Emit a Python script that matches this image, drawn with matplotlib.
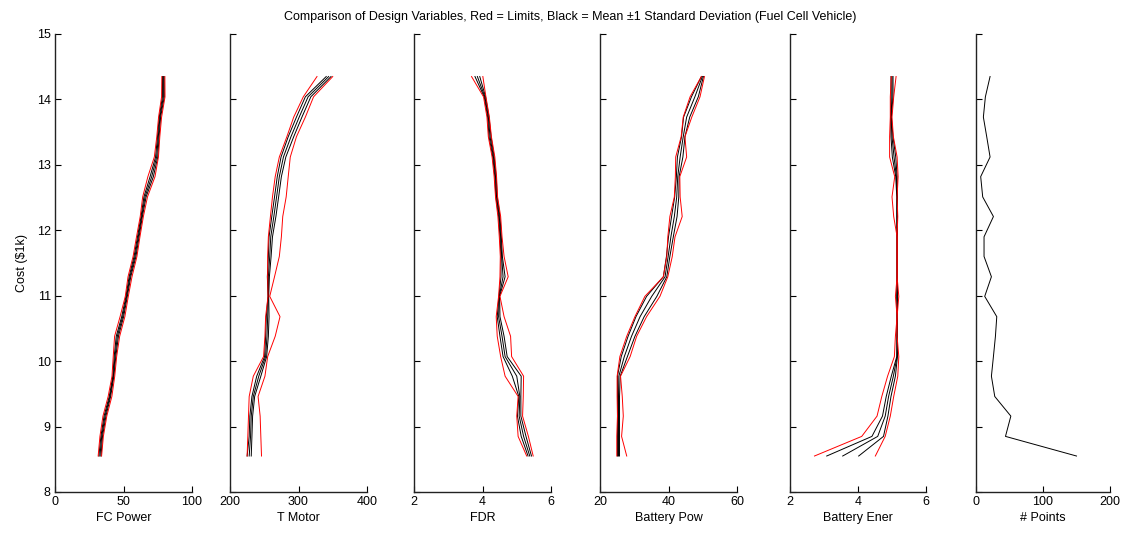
import numpy as np
import matplotlib
matplotlib.use('Agg')
import matplotlib.pyplot as plt

plt.rcParams['font.family'] = ['Liberation Sans', 'DejaVu Sans']
plt.rcParams['font.size'] = 9

# cost bins ($1k), bottom to top
cost = [8.55, 8.85, 9.16, 9.46, 9.77, 10.07, 10.38, 10.68, 10.99, 11.29,
        11.60, 11.90, 12.21, 12.51, 12.82, 13.12, 13.43, 13.73, 14.04, 14.35]

# FC Power
fc_mean = [32.8, 34.1, 36.5, 40.1, 42.6, 43.8, 45.5, 49.4, 52.3, 54.7,
           58.4, 60.8, 63.3, 65.7, 70.6, 74.2, 75.4, 76.6, 79.1, 79.1]
fc_std = [0.8, 0.6, 0.7, 0.5, 0.4, 0.6, 0.8, 0.7, 0.5, 0.6,
          0.7, 0.6, 0.5, 0.8, 1.2, 0.8, 0.6, 0.5, 0.7, 0.6]
fc_lo = [31.5, 32.8, 35.0, 38.8, 41.6, 42.5, 43.5, 47.5, 51.3, 53.3,
         57.0, 59.5, 62.2, 64.0, 67.8, 72.5, 74.3, 75.6, 77.8, 78.0]
fc_hi = [34.0, 35.3, 37.8, 41.5, 43.6, 45.0, 47.2, 51.0, 53.5, 56.2,
         59.8, 62.0, 64.5, 67.5, 73.0, 75.5, 76.5, 77.8, 80.3, 80.2]

# T Motor
tm_mean = [228, 230, 231, 234, 242, 252, 254, 255, 256, 256,
           258, 259.5, 264, 268, 272, 278, 289, 301, 314, 344]
tm_std = [3, 2, 2, 2, 3, 1.5, 2, 2, 0.5, 1.5,
          2, 2.5, 3, 3, 3, 3.5, 4, 4, 4, 3.5]
tm_lo = [225, 226, 227, 228, 234, 249, 251, 252, 255.5, 255,
         255, 256, 259, 262, 266, 272, 283, 293, 307, 327]
tm_hi = [246, 245, 244, 241, 251, 255, 266, 273, 258, 265,
         272, 275, 277, 282, 285, 288, 297, 310, 322, 350]

# FDR
fdr_mean = [5.38, 5.20, 5.07, 5.09, 5.00, 4.66, 4.57, 4.47, 4.49, 4.60,
            4.56, 4.53, 4.49, 4.41, 4.38, 4.32, 4.22, 4.17, 4.07, 3.85]
fdr_std = [0.05, 0.07, 0.05, 0.03, 0.13, 0.06, 0.06, 0.04, 0.01, 0.06,
           0.02, 0.02, 0.02, 0.02, 0.02, 0.02, 0.03, 0.02, 0.02, 0.07]
fdr_lo = [5.29, 5.04, 5.00, 5.04, 4.66, 4.53, 4.43, 4.40, 4.47, 4.51,
          4.52, 4.49, 4.45, 4.38, 4.34, 4.28, 4.17, 4.13, 4.03, 3.68]
fdr_hi = [5.48, 5.34, 5.17, 5.19, 5.20, 4.85, 4.82, 4.63, 4.51, 4.75,
          4.63, 4.57, 4.53, 4.44, 4.41, 4.36, 4.26, 4.20, 4.10, 4.01]

# Battery Pow
bp_mean = [25.4, 25.4, 25.4, 25.4, 25.5, 27.1, 29.2, 31.7, 35.1, 39.0,
           39.9, 40.7, 41.7, 42.4, 42.7, 43.4, 44.3, 45.3, 47.7, 49.9]
bp_std = [0.3, 0.3, 0.3, 0.3, 0.4, 0.9, 1.0, 1.2, 1.5, 0.5,
          0.5, 0.7, 0.8, 0.6, 0.4, 0.8, 0.5, 0.9, 1.0, 0.3]
bp_lo = [24.9, 24.9, 25.1, 25.0, 25.0, 25.8, 27.8, 30.2, 33.1, 38.5,
         39.5, 39.8, 40.4, 41.7, 42.0, 42.1, 43.7, 44.3, 46.3, 49.6]
bp_hi = [27.8, 26.3, 26.8, 26.5, 26.0, 28.8, 30.7, 33.6, 37.5, 39.8,
         41.1, 41.9, 44.0, 43.4, 43.3, 45.3, 44.8, 46.8, 49.2, 50.5]

# Battery Ener
be_mean = [3.55, 4.58, 4.80, 4.90, 5.04, 5.15, 5.15, 5.15, 5.15, 5.15,
           5.15, 5.15, 5.15, 5.15, 5.13, 5.06, 5.00, 4.97, 5.00, 5.00]
be_std = [0.47, 0.17, 0.08, 0.07, 0.06, 0.01, 0.0, 0.0, 0.01, 0.0,
          0.0, 0.0, 0.01, 0.01, 0.02, 0.05, 0.03, 0.01, 0.03, 0.03]
be_lo = [2.72, 4.11, 4.56, 4.70, 4.87, 5.07, 5.10, 5.15, 5.10, 5.15,
         5.15, 5.15, 5.05, 5.00, 5.08, 4.93, 4.93, 4.95, 4.95, 4.98]
be_hi = [4.51, 4.80, 4.95, 5.05, 5.17, 5.20, 5.15, 5.15, 5.20, 5.15,
         5.15, 5.15, 5.17, 5.15, 5.18, 5.15, 5.04, 5.00, 5.05, 5.12]

# number of points per cost bin
n_points = [150, 44, 52, 28, 23, 26, 29, 31, 13, 23,
            12, 12, 26, 10, 7, 21, 16, 11, 14, 21]

names = ['FC Power', 'T Motor', 'FDR', 'Battery Pow', 'Battery Ener']
means = [fc_mean, tm_mean, fdr_mean, bp_mean, be_mean]
stds = [fc_std, tm_std, fdr_std, bp_std, be_std]
los = [fc_lo, tm_lo, fdr_lo, bp_lo, be_lo]
his = [fc_hi, tm_hi, fdr_hi, bp_hi, be_hi]
xlims = [(0, 100), (200, 400), (2, 6), (20, 60), (2, 6)]
xticks = [[0, 50, 100], [200, 300, 400], [2, 4, 6], [20, 40, 60], [2, 4, 6]]

W, H = 1129, 535
fig = plt.figure(figsize=(W / 100, H / 100), dpi=100)

# axes left edges / widths in pixels
lefts = [55, 230, 414, 600, 790, 976]
widths = [137, 137, 137, 137, 136, 134]
y_top, y_bot = 34, 492


def make_ax(i):
    ax = fig.add_axes([lefts[i] / W, (H - y_bot) / H, widths[i] / W, (y_bot - y_top) / H])
    ax.spines['top'].set_visible(False)
    ax.spines['right'].set_visible(False)
    for s in ['left', 'bottom']:
        ax.spines[s].set_linewidth(1.0)
        ax.spines[s].set_color('#222222')
    ax.tick_params(direction='in', length=4, width=0.8, labelsize=9, pad=3)
    ax.set_ylim(8, 15)
    ax.set_yticks(range(8, 16))
    if i > 0:
        ax.set_yticklabels([])
    return ax


c = np.array(cost)
for i in range(5):
    ax = make_ax(i)
    m = np.array(means[i])
    s = np.array(stds[i])
    ax.plot(m - s, c, color='k', lw=0.7)
    ax.plot(m, c, color='k', lw=0.7)
    ax.plot(m + s, c, color='k', lw=0.7)
    ax.plot(los[i], c, color='r', lw=0.7)
    ax.plot(his[i], c, color='r', lw=0.7)
    ax.set_xlim(*xlims[i])
    ax.set_xticks(xticks[i])
    ax.set_xlabel(names[i], fontsize=9, labelpad=3)
    if i == 0:
        ax.set_ylabel('Cost (\\$1k)', fontsize=9, labelpad=6)

ax = make_ax(5)
ax.plot(n_points, c, color='k', lw=0.7)
ax.set_xlim(0, 200)
ax.set_xticks([0, 100, 200])
ax.set_xlabel('# Points', fontsize=9, labelpad=3)

fig.text(0.505, 1 - 17 / H,
         'Comparison of Design Variables, Red = Limits, Black = Mean \u00b11 Standard Deviation (Fuel Cell Vehicle)',
         ha='center', va='center', fontsize=9)

fig.savefig('out.png', dpi=100)
